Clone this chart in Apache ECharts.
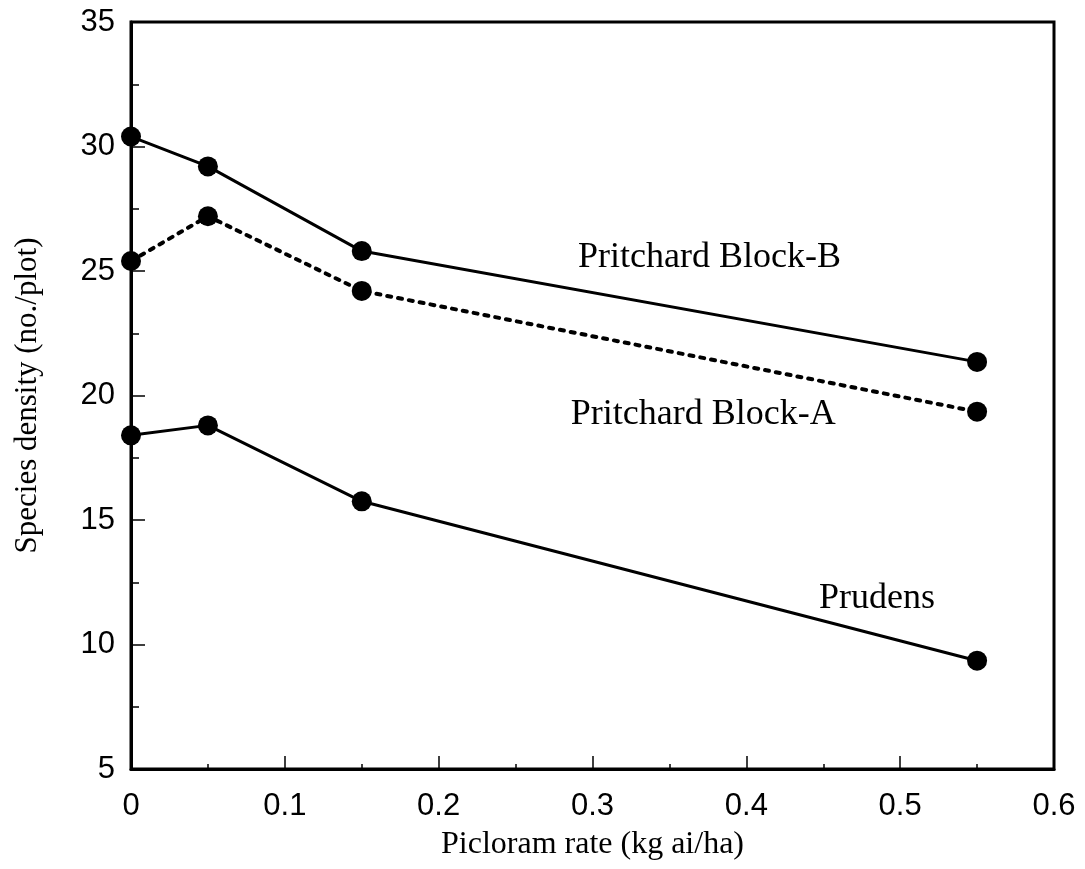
<!DOCTYPE html>
<html>
<head>
<meta charset="utf-8">
<script src="https://cdn.jsdelivr.net/npm/echarts@6/dist/echarts.min.js"></script>
<style>html,body{margin:0;padding:0;background:#fff}#c{width:1085px;height:869px}</style>
</head>
<body>
<div id="c"></div>
<script>
const rates = [0, 0.05, 0.15, 0.55];
const blockB = [30.4, 29.2, 25.8, 21.35];
const blockA = [25.4, 27.2, 24.2, 19.35];
const prudens = [18.4, 18.8, 15.75, 9.35];
const seriesNames = ['Pritchard Block-B', 'Pritchard Block-A', 'Prudens'];
const xTicks = [0, 0.1, 0.2, 0.3, 0.4, 0.5, 0.6];
const yTicks = [5, 10, 15, 20, 25, 30, 35];

const chart = echarts.init(document.getElementById('c'));
const pairs = v => rates.map((r, i) => [r, v[i]]);
function labelMark(text, x, y) {
  return {
    silent: true, symbol: 'circle', symbolSize: 1,
    itemStyle: { color: 'rgba(0,0,0,0)' },
    data: [{ coord: [x, y],
      label: { show: true, formatter: text, position: 'inside', color: '#000',
        fontFamily: 'Liberation Serif', fontSize: 36 } }]
  };
}
const base = {
  type: 'line', symbol: 'circle', symbolSize: 20,
  itemStyle: { color: '#000' }, animation: false, z: 3
};
chart.setOption({
  animation: false,
  grid: { left: 131, right: 31, top: 22, bottom: 100, show: true, borderColor: '#000', borderWidth: 3, backgroundColor: 'transparent' },
  xAxis: {
    type: 'value', min: 0, max: 0.6, interval: 0.1,
    name: 'Picloram rate (kg ai/ha)', nameLocation: 'middle', nameGap: 60,
    nameTextStyle: { fontFamily: 'Liberation Serif', fontSize: 32, color: '#000' },
    axisLine: { show: true, lineStyle: { color: '#000', width: 3 } },
    axisTick: { show: true, inside: true, length: 13, lineStyle: { color: '#000', width: 1.5 } },
    minorTick: { show: true, splitNumber: 2, length: 5, lineStyle: { color: '#000', width: 1.5 } },
    splitLine: { show: false },
    axisLabel: { color: '#000', fontFamily: 'Liberation Sans', fontSize: 31, margin: 22,
      formatter: v => { const t = xTicks.find(k => Math.abs(k - v) < 1e-9); return t === undefined ? '' : String(t); } }
  },
  yAxis: {
    type: 'value', min: 5, max: 35, interval: 5,
    name: 'Species density (no./plot)', nameLocation: 'middle', nameGap: 88,
    nameTextStyle: { fontFamily: 'Liberation Serif', fontSize: 31, color: '#000' },
    axisLine: { show: true, lineStyle: { color: '#000', width: 3 } },
    axisTick: { show: true, inside: true, length: 14, lineStyle: { color: '#000', width: 1.5 } },
    minorTick: { show: true, splitNumber: 2, length: 8, lineStyle: { color: '#000', width: 1.5 } },
    splitLine: { show: false },
    axisLabel: { color: '#000', fontFamily: 'Liberation Sans', fontSize: 31, margin: 16,
      formatter: v => { const t = yTicks.find(k => Math.abs(k - v) < 1e-9); return t === undefined ? '' : String(t); } }
  },
  series: [
    Object.assign({}, base, { name: seriesNames[0], data: pairs(blockB),
      lineStyle: { color: '#000', width: 3 },
      markPoint: labelMark(seriesNames[0], 0.376, 25.55) }),
    Object.assign({}, base, { name: seriesNames[1], data: pairs(blockA),
      lineStyle: { color: '#000', width: 4, type: [4, 7], cap: 'round' },
      markPoint: labelMark(seriesNames[1], 0.372, 19.25) }),
    Object.assign({}, base, { name: seriesNames[2], data: pairs(prudens),
      lineStyle: { color: '#000', width: 3 },
      markPoint: labelMark(seriesNames[2], 0.485, 11.85) })
  ]
});
</script>
</body>
</html>
